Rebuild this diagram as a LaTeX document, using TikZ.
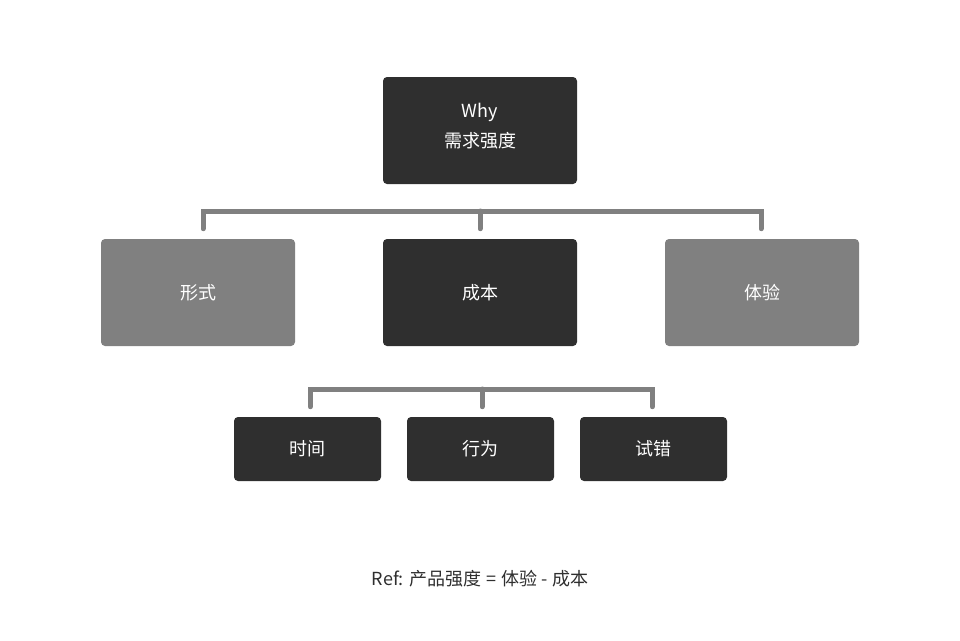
\documentclass[tikz,border=0pt]{standalone}
\usepackage{fontspec}
\setmainfont{Noto Sans CJK SC}
\usepackage{tikz}
\usetikzlibrary{calc}
\usetikzlibrary{positioning}
\definecolor{darkbox}{HTML}{2F2F2F}
\definecolor{greybox}{HTML}{808080}
\newcommand\linewd{3.75pt}
\newcommand\dropgap{7.5pt}
\tikzstyle{box}      = [rounded corners=3pt, text=white, align=center,
                        font=\fontsize{13.5}{22.5}\selectfont, inner sep=0pt]
\tikzstyle{bigbox}   = [box, minimum width=145.5pt, minimum height=80.25pt]
\tikzstyle{smallbox} = [box, minimum width=110.25pt, minimum height=48pt]
\tikzstyle{dark}     = [fill=darkbox]
\tikzstyle{grey}     = [fill=greybox]
\tikzstyle{bracket}  = [draw=greybox, line width=\linewd, line cap=round]

\begin{document}
\begin{tikzpicture}[x=0.75pt,y=-0.75pt]
  \useasboundingbox (0,0) rectangle (960,640);
  % top box
  \node[bigbox,dark] (why) at (480,130.5) {};
  \node[box] (whytext) at ([yshift=3pt]why.center) {Why\\需求强度};
  % second row
  \node[bigbox,grey] (form) at (198,292.5) {形式};
  \node[bigbox,dark] (cost) at (480,292.5) {成本};
  \node[bigbox,grey] (exper) at (762,292.5) {体验};
  % third row
  \node[smallbox,dark] (time) at (307.5,449) {时间};
  \node[smallbox,dark] (act) at (480.5,449) {行为};
  \node[smallbox,dark] (trial) at (653.5,449) {试错};
  % brackets
  \coordinate (barone) at (480,211);
  \coordinate (bartwo) at (482,389);
  \draw[bracket] ([yshift=\dropgap,xshift=3.75pt]form.north) |- (barone) -| ([yshift=\dropgap,xshift=-0.75pt]exper.north);
  \draw[bracket] (barone) -- ([yshift=\dropgap]cost.north);
  \draw[bracket] ([yshift=\dropgap,xshift=2pt]time.north) |- (bartwo) -| ([yshift=\dropgap,xshift=-1pt]trial.north);
  \draw[bracket] (bartwo) -- ([yshift=\dropgap]bartwo |- act.north);
  % note
  \node[font=\fontsize{13.5}{16}\selectfont, text=darkbox] (note) at (480,579)
    {Ref: 产品强度\hspace{4pt}=\hspace{4pt}体验\hspace{3pt}-\hspace{3pt}成本};
\end{tikzpicture}
\end{document}
